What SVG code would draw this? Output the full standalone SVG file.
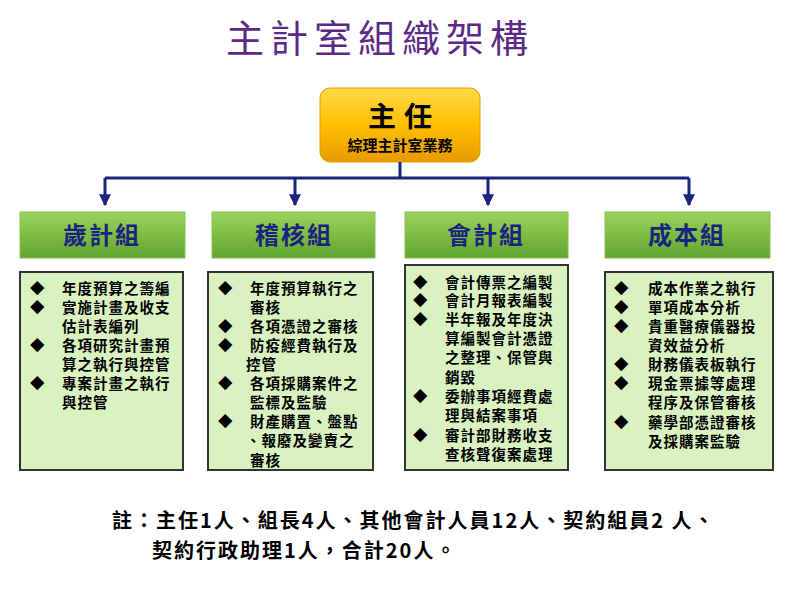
<svg xmlns="http://www.w3.org/2000/svg" width="800" height="589" viewBox="0 0 800 589">
<defs>
<linearGradient id="gold" x1="0" y1="0" x2="0" y2="1"><stop offset="0" stop-color="#ffd84a"/><stop offset="0.5" stop-color="#ffc000"/><stop offset="1" stop-color="#e89a00"/></linearGradient>
<linearGradient id="green" x1="0" y1="0" x2="0" y2="1"><stop offset="0" stop-color="#9bd35a"/><stop offset="1" stop-color="#5fa530"/></linearGradient>
<marker id="arr" viewBox="0 0 10 10" refX="9" refY="5" markerWidth="4" markerHeight="4" orient="auto"><path d="M0,0L10,5L0,10z" fill="#1a237e"/></marker>
<style>
text{font-family:"Noto Sans CJK TC","Liberation Serif",serif;font-weight:bold}
.hd{fill:#1a237e;font-size:24px;text-anchor:middle;letter-spacing:2px}
.li{font-size:14.5px;fill:#000;letter-spacing:1px}
.bx{fill:#d9f2c0;stroke:#333;stroke-width:2}
.gh{fill:url(#green);stroke:#8ac050;stroke-width:1}
.cn{stroke:#1a237e;stroke-width:3;fill:none}
</style>
</defs>
<rect width="800" height="589" fill="#fff"/>
<text x="380" y="52" text-anchor="middle" font-size="38" fill="#5b2a86" style="font-weight:normal;letter-spacing:6px">主計室組織架構</text>
<g id="top">
<rect x="320" y="88" width="160" height="74" rx="10" fill="url(#gold)" stroke="#e0a000"/>
<text x="404" y="127" text-anchor="middle" font-size="28" fill="#000" style="letter-spacing:8px">主任</text>
<text x="400" y="151" text-anchor="middle" font-size="15" fill="#000">綜理主計室業務</text>
</g>
<g id="connectors">
<path class="cn" d="M400,162V178M105,178H689"/>
<path class="cn" marker-end="url(#arr)" d="M105,178V205"/>
<path class="cn" marker-end="url(#arr)" d="M295,178V205"/>
<path class="cn" marker-end="url(#arr)" d="M488,178V205"/>
<path class="cn" marker-end="url(#arr)" d="M689,178V205"/>
</g>
<g id="g1">
<rect class="gh" x="20" y="212" width="165" height="46"/>
<text class="hd" x="102" y="244">歲計組</text>
<rect class="bx" x="20" y="272" width="163" height="198"/>
<g class="li"><text x="30" y="294">◆</text><text x="62" y="294">年度預算之籌編</text>
<text x="30" y="313">◆</text><text x="62" y="313">實施計畫及收支</text>
<text x="62" y="332">估計表編列</text>
<text x="30" y="351">◆</text><text x="62" y="351">各項研究計畫預</text>
<text x="62" y="370">算之執行與控管</text>
<text x="30" y="389">◆</text><text x="62" y="389">專案計畫之執行</text>
<text x="62" y="408">與控管</text></g>
</g>
<g id="g2">
<rect class="gh" x="212" y="212" width="163" height="46"/>
<text class="hd" x="294" y="244">稽核組</text>
<rect class="bx" x="208" y="272" width="165" height="198"/>
<g class="li"><text x="218" y="294">◆</text><text x="250" y="294">年度預算執行之</text>
<text x="250" y="313">審核</text>
<text x="218" y="332">◆</text><text x="250" y="332">各項憑證之審核</text>
<text x="218" y="351">◆</text><text x="250" y="351">防疫經費執行及</text>
<text x="246" y="370">控管</text>
<text x="218" y="389">◆</text><text x="250" y="389">各項採購案件之</text>
<text x="250" y="408">監標及監驗</text>
<text x="218" y="427">◆</text><text x="250" y="427">財產購置、盤點</text>
<text x="246" y="446">、報廢及變賣之</text>
<text x="250" y="466">審核</text></g>
</g>
<g id="g3">
<rect class="gh" x="405" y="212" width="163" height="46"/>
<text class="hd" x="486" y="244">會計組</text>
<rect class="bx" x="405" y="265" width="163" height="205"/>
<g class="li"><text x="413" y="288">◆</text><text x="445" y="288">會計傳票之編製</text>
<text x="413" y="306">◆</text><text x="445" y="306">會計月報表編製</text>
<text x="413" y="325">◆</text><text x="445" y="325">半年報及年度決</text>
<text x="445" y="344">算編製會計憑證</text>
<text x="445" y="363">之整理、保管與</text>
<text x="445" y="383">銷毀</text>
<text x="413" y="402">◆</text><text x="445" y="402">委辦事項經費處</text>
<text x="445" y="421">理與結案事項</text>
<text x="413" y="441">◆</text><text x="445" y="441">審計部財務收支</text>
<text x="445" y="460">查核聲復案處理</text></g>
</g>
<g id="g4">
<rect class="gh" x="605" y="212" width="165" height="46"/>
<text class="hd" x="687" y="244">成本組</text>
<rect class="bx" x="605" y="272" width="168" height="198"/>
<g class="li"><text x="614" y="294">◆</text><text x="648" y="294">成本作業之執行</text>
<text x="614" y="313">◆</text><text x="648" y="313">單項成本分析</text>
<text x="614" y="332">◆</text><text x="648" y="332">貴重醫療儀器投</text>
<text x="648" y="351">資效益分析</text>
<text x="614" y="370">◆</text><text x="648" y="370">財務儀表板執行</text>
<text x="614" y="389">◆</text><text x="648" y="389">現金票據等處理</text>
<text x="648" y="408">程序及保管審核</text>
<text x="614" y="428">◆</text><text x="648" y="428">藥學部憑證審核</text>
<text x="648" y="447">及採購案監驗</text></g>
</g>
<g id="note">
<text x="112" y="528" font-size="20" fill="#000" style="letter-spacing:2px">註：主任1人、組長4人、其他會計人員12人、契約組員2 人、</text>
<text x="152" y="558" font-size="20" fill="#000" style="letter-spacing:2px">契約行政助理1人，合計20人。</text>
</g>
</svg>
